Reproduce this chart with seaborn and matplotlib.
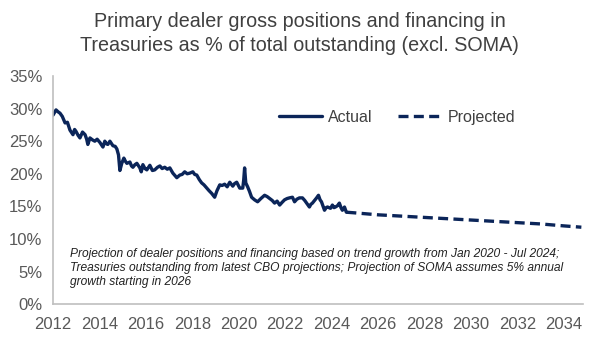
import numpy as np
import pandas as pd
import matplotlib.pyplot as plt
import seaborn as sns

# values (fractional year, % of outstanding)
actual_years = [2012.00, 2012.13, 2012.22, 2012.30, 2012.40, 2012.52, 2012.62, 2012.73, 2012.86, 2012.93,
                2012.99, 2013.08, 2013.16, 2013.27, 2013.38, 2013.45, 2013.50, 2013.59, 2013.70, 2013.80,
                2013.90, 2014.02, 2014.15, 2014.23, 2014.30, 2014.36, 2014.45, 2014.58, 2014.68, 2014.75,
                2014.82, 2014.88, 2014.96, 2015.05, 2015.12, 2015.18, 2015.31, 2015.38, 2015.44, 2015.53,
                2015.61, 2015.74, 2015.80, 2015.87, 2015.96, 2016.04, 2016.17, 2016.28, 2016.38, 2016.50,
                2016.60, 2016.70, 2016.81, 2016.92, 2017.03, 2017.16, 2017.33, 2017.46, 2017.56, 2017.67,
                2017.78, 2017.89, 2018.02, 2018.10, 2018.19, 2018.30, 2018.40, 2018.50, 2018.62, 2018.72,
                2018.83, 2018.96, 2019.06, 2019.18, 2019.28, 2019.39, 2019.50, 2019.61, 2019.74, 2019.82,
                2019.91, 2020.04, 2020.17, 2020.21, 2020.25, 2020.30, 2020.38, 2020.46, 2020.55, 2020.68,
                2020.81, 2020.95, 2021.11, 2021.22, 2021.33, 2021.44, 2021.54, 2021.65, 2021.76, 2021.86,
                2021.97, 2022.08, 2022.18, 2022.31, 2022.40, 2022.50, 2022.61, 2022.74, 2022.84, 2022.92,
                2023.04, 2023.10, 2023.17, 2023.26, 2023.35, 2023.43, 2023.50, 2023.56, 2023.69, 2023.76,
                2023.82, 2023.95, 2024.03, 2024.10, 2024.16, 2024.25, 2024.33, 2024.40, 2024.46, 2024.55,
                2024.63]
actual_pct = [29.0, 29.8, 29.5, 29.3, 28.8, 27.8, 27.9, 26.7, 26.0, 26.8,
              26.5, 25.9, 25.5, 26.4, 26.0, 25.3, 24.5, 25.5, 25.2, 25.0,
              25.3, 24.8, 24.1, 25.0, 24.6, 24.5, 25.0, 24.3, 24.2, 23.8,
              22.9, 20.5, 21.6, 22.4, 21.9, 21.6, 21.8, 21.2, 21.0, 21.4,
              21.6, 20.9, 20.3, 21.4, 20.8, 20.6, 21.3, 20.5, 20.6, 21.0,
              21.2, 20.8, 21.0, 20.7, 20.9, 20.1, 19.4, 19.8, 19.9, 20.3,
              20.0, 20.1, 20.3, 19.9, 19.8, 19.1, 18.6, 18.3, 17.8, 17.4,
              17.0, 16.4, 17.4, 18.3, 18.2, 18.4, 18.0, 18.7, 18.1, 18.5,
              18.7, 17.8, 17.8, 19.0, 20.9, 18.6, 18.0, 17.3, 16.4, 16.0,
              15.7, 16.2, 16.7, 16.5, 16.2, 15.9, 15.5, 15.8, 15.2, 15.6,
              16.0, 16.2, 16.3, 16.4, 15.7, 16.1, 16.3, 16.3, 15.9, 15.5,
              14.9, 15.3, 15.5, 15.9, 16.3, 16.7, 16.0, 15.7, 14.4, 14.8,
              14.9, 14.7, 15.2, 14.8, 14.9, 15.1, 15.5, 14.8, 14.4, 14.9,
              14.1]

proj_years = [2024.63, 2025.0, 2026.0, 2027.0, 2028.0, 2029.0, 2030.0, 2031.0, 2032.0, 2033.0, 2034.0, 2034.75]
proj_pct = [14.1, 14.0, 13.7, 13.5, 13.3, 13.1, 12.9, 12.7, 12.5, 12.3, 12.0, 11.8]

year_ticks = list(range(2012, 2035, 2))
pct_ticks = [0, 5, 10, 15, 20, 25, 30, 35]

title = "Primary dealer gross positions and financing in\nTreasuries as % of total outstanding (excl. SOMA)"
note = ("Projection of dealer positions and financing based on trend growth from Jan 2020 - Jul 2024;\n"
        "Treasuries outstanding from latest CBO projections; Projection of SOMA assumes 5% annual\n"
        "growth starting in 2026")

navy = "#0b2559"
grey = "#595959"

sns.set_style("white")
plt.rcParams['font.family'] = ['Liberation Sans', 'DejaVu Sans']

df_a = pd.DataFrame({"year": actual_years, "pct": actual_pct})
df_p = pd.DataFrame({"year": proj_years, "pct": proj_pct})

fig = plt.figure(figsize=(5.99, 3.44), dpi=100)
ax = fig.add_axes([0.0885, 0.116, 0.884, 0.663])

sns.lineplot(data=df_a, x="year", y="pct", ax=ax, color=navy, linewidth=2.4, label="Actual")
sns.lineplot(data=df_p, x="year", y="pct", ax=ax, color=navy, linewidth=2.4,
             linestyle=(0, (3.0, 1.6)), label="Projected")

ax.set_xlim(2012, 2034.8)
ax.set_ylim(0, 35)
ax.set_xticks(year_ticks)
ax.set_xticklabels([str(y) for y in year_ticks])
ax.set_yticks(pct_ticks)
ax.set_yticklabels([f"{p}%" for p in pct_ticks])
ax.set_xlabel("")
ax.set_ylabel("")

for s in ["top", "right"]:
    ax.spines[s].set_visible(False)
for s in ["left", "bottom"]:
    ax.spines[s].set_color("#bfbfbf")
    ax.spines[s].set_linewidth(1.2)
ax.tick_params(axis="both", colors="#bfbfbf", labelcolor=grey, labelsize=12,
               length=4, width=1.2, direction="out")
ax.tick_params(axis="x", pad=5)

leg = ax.legend(loc="center left", bbox_to_anchor=(0.426, 0.82), ncol=2, frameon=False,
                fontsize=11.5, handlelength=2.7, columnspacing=1.6, handletextpad=0.4,
                borderaxespad=0, borderpad=0)
for t in leg.get_texts():
    t.set_color("#404040")

ax.text(0.032, 0.245, note, transform=ax.transAxes, fontsize=8.65, style="italic",
        color="#222222", va="top", linespacing=1.2)

fig.text(0.5, 0.965, title, ha="center", va="top", fontsize=14.2, color="#404040", linespacing=1.3)

fig.savefig("out.png", dpi=100)
